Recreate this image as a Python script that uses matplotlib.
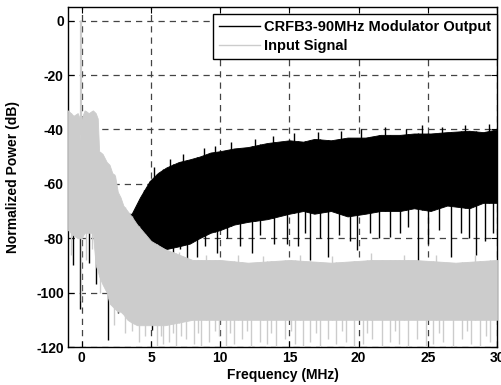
import numpy as np
import matplotlib
matplotlib.use('Agg')
import matplotlib.pyplot as plt

plt.rcParams['font.family'] = ['Liberation Sans', 'DejaVu Sans']
plt.rcParams['font.weight'] = 'bold'
plt.rcParams['axes.unicode_minus'] = False

# modulator output (black) - envelope
mod_f = [1.0, 2.0, 3.0, 3.6, 4.2, 4.9, 5.5, 6.1, 7.0, 7.8, 8.5, 9.3, 10.0, 11.0, 12.0, 13.4, 15.0, 16.0, 16.8, 18.0, 19.2, 20.5, 21.6, 23.0, 24.0, 25.2, 26.4, 28.0, 29.0, 30.0]
mod_top = [-55, -58, -71, -71, -65, -59, -56, -54, -52, -51, -50, -48.5, -48, -47, -46.5, -45, -44, -44.5, -43.5, -44, -43, -43, -42, -42, -41.5, -41.5, -41, -40.5, -41, -40]
mod_bot = [-80, -85, -85, -76, -79, -82, -83, -84, -83, -82, -80, -78, -77, -75, -74, -73, -71, -70, -71, -70, -72, -71, -70, -70, -69, -70, -68, -69, -67, -67]
mod_spike_f = [-0.65, -0.1, 0.5, 1.06, 1.9, 2.6, 4.5, 4.9, 5.05, 5.4, 5.9, 6.6, 7.1, 7.6, 8.3, 8.9, 9.8, 10.5, 11.4, 12.3, 12.9, 13.9, 14.8, 15.6, 16.1, 16.5, 17.2, 17.8, 18.6, 19.4, 19.9, 20.8, 21.5, 22.3, 23.0, 23.6, 24.3, 25.0, 25.8, 26.7, 27.4, 28.0, 28.5, 29.1, 29.7]
mod_spike_db = [-90, -106, -89, -97, -117.5, -107.5, -82, -84, -113.8, -86, -100, -87, -84, -87.6, -87, -83, -85.6, -80, -83, -85.6, -79, -82, -82, -83, -78, -88, -80, -87, -79, -81, -84.4, -78, -80, -79.5, -78, -76, -89, -82, -77, -87, -78, -80, -86, -81, -78]
mod_peak_f = [5.2, 6.4, 7.3, 8.8, 9.6, 10.8, 12.5, 13.8, 15.3, 17.1, 18.7, 20.2, 21.9, 23.4, 24.6, 26.0, 27.7, 29.4]
mod_peak_db = [-54, -51, -49, -47, -46, -44.5, -43.5, -42.5, -41.5, -41, -40.5, -40, -39, -40, -38.5, -39, -38.5, -38]

# input signal (light gray)
in_f = [-1.0, -0.6, -0.3, -0.15, -0.1, -0.02, 0.2, 0.5, 0.8, 1.0, 1.15, 1.25, 1.5, 1.8, 2.0, 2.2, 2.4, 2.6, 2.8, 3.0, 3.3, 3.6, 4.0, 4.5, 5.0, 6.0, 7.0, 8.0, 10.0, 12.0, 15.0, 18.0, 21.0, 24.0, 27.0, 30.0]
in_top = [-33, -35, -34, -36, -44, -36, -33, -34, -33, -34, -36, -48, -49, -52, -53, -56, -57, -63, -65, -68, -70, -72, -75, -78, -81, -84, -86, -88, -88, -89, -88, -89, -88, -88, -89, -88]
in_bot = [-77, -79, -80, -80, -80, -80, -78, -78, -78, -90, -92, -94, -97, -100, -104, -105, -106, -107, -107, -108, -110, -111, -112, -112, -112, -112, -111, -110, -110, -110, -110, -110, -110, -110, -110, -110]
in_spike_f = [-0.8, -0.05, 0.3, 0.7, 1.3, 2.3, 3.1, 3.6, 4.1, 4.6, 5.4, 5.7, 5.9, 6.3, 6.6, 6.8, 7.2, 7.5, 8.1, 8.4, 8.6, 9.2, 9.6, 9.9, 10.4, 10.7, 11.0, 11.6, 11.9, 12.2, 12.9, 13.4, 13.7, 14.0, 14.7, 15.1, 15.4, 16.0, 16.5, 16.9, 17.2, 17.8, 18.4, 18.8, 19.1, 19.7, 20.3, 20.6, 21.0, 21.7, 22.3, 22.6, 22.9, 23.6, 24.2, 24.9, 25.4, 25.8, 26.1, 26.8, 27.5, 27.8, 28.1, 28.8, 29.2, 29.5]
in_spike_db = [-86, -103, -88, -84, -100, -112, -115, -114, -118, -116, -120, -116, -119, -118, -115, -120, -116, -117, -119, -115, -120, -118, -114, -116, -120, -115, -119, -117, -114, -120, -118, -119, -115, -120, -117, -114, -119, -120, -118, -115, -120, -117, -119, -114, -118, -120, -119, -115, -117, -120, -118, -114, -119, -120, -117, -120, -119, -115, -118, -120, -117, -114, -119, -120, -116, -118]
in_peak_f = [5.6, 7.0, 9.0, 11.3, 13.1, 15.8, 18.1, 20.9, 23.3, 25.6, 28.4]
in_peak_db = [-83, -85, -86, -86, -86.5, -86, -86.5, -85.5, -86, -86, -86]
carrier_f = [-0.08]
carrier_db = [0]

xticks = [0, 5, 10, 15, 20, 25, 30]
yticks = [0, -20, -40, -60, -80, -100, -120]

fig = plt.figure(figsize=(5.01, 3.85), dpi=100)
ax = fig.add_axes([0.1357, 0.0987, 0.8563, 0.8831])

black = '#000000'
gray = '#cccccc'

ax.fill_between(mod_f, mod_bot, mod_top, color=black, lw=0.6, zorder=2)
ax.vlines(mod_spike_f, mod_spike_db, np.interp(mod_spike_f, mod_f, mod_top), color=black, lw=1, zorder=2)
ax.vlines(mod_peak_f, np.interp(mod_peak_f, mod_f, mod_bot), mod_peak_db, color=black, lw=1, zorder=2)

ax.fill_between(in_f, in_bot, in_top, color=gray, lw=0.6, zorder=3)
ax.vlines(in_spike_f, in_spike_db, np.interp(in_spike_f, in_f, in_top), color=gray, lw=1, zorder=3)
ax.vlines(in_peak_f, np.interp(in_peak_f, in_f, in_bot), in_peak_db, color=gray, lw=1, zorder=3)
ax.vlines(carrier_f, np.interp(carrier_f, in_f, in_top), carrier_db, color=gray, lw=1.6, zorder=3)

ax.plot([], [], color=black, lw=1, label='CRFB3-90MHz Modulator Output')
ax.plot([], [], color=gray, lw=1, label='Input Signal')

ax.set_xlim(-1, 30)
ax.set_ylim(-120, 5)
ax.set_xticks(xticks)
ax.set_yticks(yticks)
ax.tick_params(direction='in', top=True, right=True, length=4, labelsize=10, pad=3)
for lab in ax.get_xticklabels() + ax.get_yticklabels():
    lab.set_fontweight('bold')
ax.set_axisbelow(True)
ax.grid(True, color='#444444', ls=(0, (5, 4)), lw=0.9)
for s in ax.spines.values():
    s.set_linewidth(1)

ax.set_xlabel('Frequency (MHz)', fontsize=10, fontweight='bold', labelpad=2)
ax.set_ylabel('Normalized Power (dB)', fontsize=10, fontweight='bold')
ax.yaxis.set_label_coords(-0.112, 0.5)

leg = ax.legend(loc='upper right', bbox_to_anchor=(1.0, 0.979), borderaxespad=0,
                fancybox=False, framealpha=1, edgecolor='black', fontsize=10.5,
                handlelength=2.8, handletextpad=0.3, borderpad=0.4, labelspacing=0.35)
leg.get_frame().set_linewidth(1)
for t in leg.get_texts():
    t.set_fontweight('bold')

fig.savefig('out.png', dpi=100)
